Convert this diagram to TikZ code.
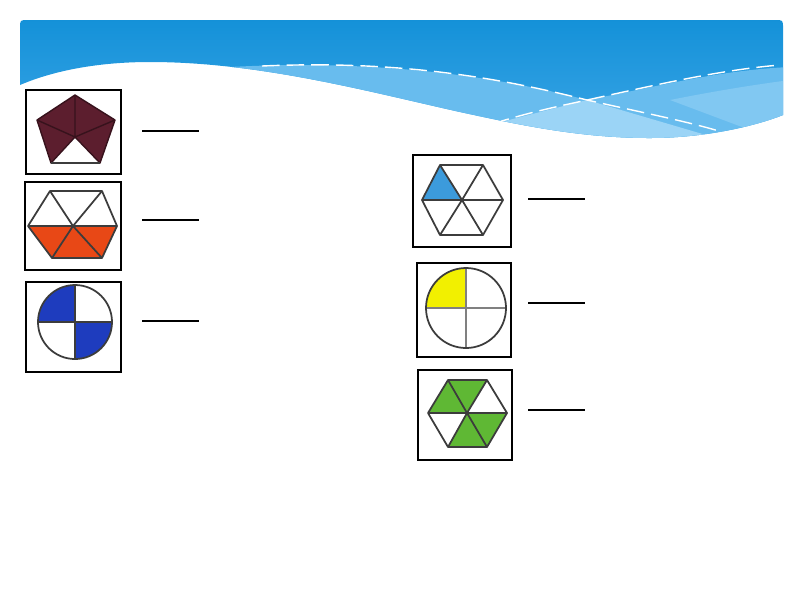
\documentclass[tikz,border=0pt]{standalone}
\usepackage{xcolor}
\usepackage{tikz}
\definecolor{hdrtop}{RGB}{14,142,214}
\definecolor{hdrbot}{RGB}{58,165,230}
\definecolor{bandmid}{RGB}{104,188,238}
\definecolor{bandlite}{RGB}{155,212,246}
\definecolor{maroon}{RGB}{92,30,46}
\definecolor{redorange}{RGB}{232,72,22}
\definecolor{pieblue}{RGB}{30,60,190}
\definecolor{skyblue}{RGB}{60,155,220}
\definecolor{lemon}{RGB}{242,240,0}
\definecolor{leaf}{RGB}{95,184,52}
\definecolor{edgegray}{RGB}{60,60,60}

\begin{document}
\begin{tikzpicture}[x=0.02cm,y=-0.02cm,
  frame/.style={draw=black,line width=0.6pt},
  blank/.style={black,line width=1.2pt},
  edge/.style={edgegray,line width=1pt,line join=round},
  wave/.style={white,line width=0.8pt,dash pattern=on 10pt off 4pt}]
  \useasboundingbox (0,0) rectangle (800,600);
  % Header banner
  \begin{scope}
    \clip (20,85) -- (20,28) .. controls (20,20) .. (28,20) -- (775,20) .. controls (783,20) .. (783,28) -- (783,115)
      .. controls (750,128) and (700,138) .. (650,138)
      .. controls (580,138) and (520,125) .. (460,112)
      .. controls (370,92) and (260,62) .. (150,62)
      .. controls (100,62) and (55,70) .. (20,85) -- cycle;
    \shade[top color=hdrtop,bottom color=hdrbot] (0,0) rectangle (800,140);
    % Light bands
    \fill[bandmid] (230,67) .. controls (360,60) and (480,72) .. (587,100)
      .. controls (660,86) and (720,70) .. (790,67) -- (790,145) -- (230,145) -- cycle;
    \fill[bandlite] (470,130) -- (587,100) -- (740,145) -- cycle;
    \fill[bandlite,opacity=0.5] (670,100) .. controls (720,90) and (760,84) .. (790,80) -- (790,145) -- cycle;
    % Dashed streaks
    \draw[wave] (262,66) .. controls (400,60) and (500,78) .. (587,100) .. controls (640,112) and (690,122) .. (722,132);
    \draw[wave] (492,124) .. controls (530,112) and (560,106) .. (587,100) .. controls (660,84) and (720,70) .. (780,65);
  \end{scope}

  % Left column
  \draw[frame] (26,90) rectangle (121,174);
  \fill[maroon] (75,95) -- (115,120) -- (100,163) -- (51,163) -- (37,120) -- cycle;
  \fill[white] (51,163) -- (100,163) -- (75,137) -- cycle;
  \draw[maroon!60!black,line width=0.8pt,line join=round] (75,95) -- (115,120) -- (100,163) -- (51,163) -- (37,120) -- cycle;
  \draw[maroon!60!black,line width=0.8pt] (75,137) -- (75,95) (75,137) -- (115,120) (75,137) -- (37,120)
    (75,137) -- (51,163) (75,137) -- (100,163);
  \draw[edge] (51,163) -- (100,163);
  \draw[blank] (142,131) -- (199,131);

  \draw[frame] (25,182) rectangle (121,270);
  \fill[redorange] (28,226) -- (117,226) -- (102,258) -- (52,258) -- cycle;
  \draw[edge] (50,191) -- (102,191) -- (117,226) -- (102,258) -- (52,258) -- (28,226) -- cycle;
  \draw[edge] (28,226) -- (117,226) (50,191) -- (73,226) -- (102,258) (102,191) -- (73,226) -- (52,258);
  \draw[blank] (142,220) -- (199,220);

  \draw[frame] (26,282) rectangle (121,372);
  \begin{scope}
    \clip (75,322) circle[radius=37];
    \fill[pieblue] (38,285) rectangle (75,322);
    \fill[pieblue] (75,322) rectangle (112,359);
  \end{scope}
  \draw[edge] (38,322) -- (112,322) (75,285) -- (75,359);
  \draw[edge] (75,322) circle[radius=37];
  \draw[blank] (142,321) -- (199,321);

  % Right column
  \draw[frame] (413,155) rectangle (511,247);
  \fill[skyblue] (440,165) -- (422,200) -- (462,200) -- cycle;
  \draw[edge] (440,165) -- (483,165) -- (503,200) -- (483,235) -- (440,235) -- (422,200) -- cycle;
  \draw[edge] (422,200) -- (503,200) (440,165) -- (462,200) -- (483,235) (483,165) -- (462,200) -- (440,235);
  \draw[blank] (528,199) -- (585,199);

  \draw[frame] (417,263) rectangle (511,357);
  \begin{scope}
    \clip (466,308) circle[radius=40];
    \fill[lemon] (426,268) rectangle (466,308);
  \end{scope}
  \draw[gray,line width=1pt] (426,308) -- (506,308) (466,268) -- (466,348);
  \draw[edge] (466,308) circle[radius=40];
  \draw[black,line width=0.6pt] (528,303) -- (585,303);

  \draw[frame] (418,370) rectangle (512,460);
  \fill[leaf] (448,380) -- (487,380) -- (467,413) -- cycle;
  \fill[leaf] (448,380) -- (428,413) -- (467,413) -- cycle;
  \fill[leaf] (448,447) -- (487,447) -- (467,413) -- cycle;
  \fill[leaf] (507,413) -- (487,447) -- (467,413) -- cycle;
  \draw[edge] (448,380) -- (487,380) -- (507,413) -- (487,447) -- (448,447) -- (428,413) -- cycle;
  \draw[edge] (428,413) -- (507,413) (448,380) -- (467,413) -- (487,447) (487,380) -- (467,413) -- (448,447);
  \draw[blank] (528,410) -- (585,410);
\end{tikzpicture}
\end{document}
